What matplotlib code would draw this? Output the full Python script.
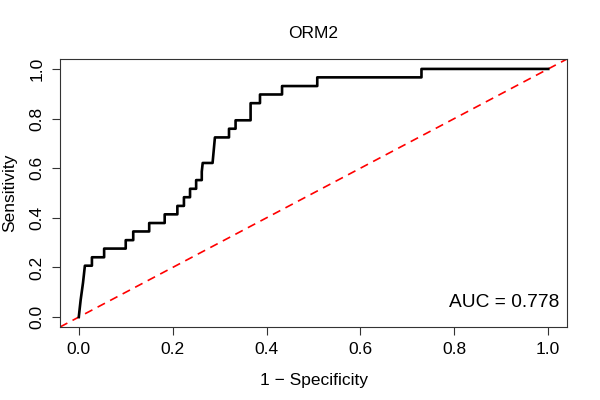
import matplotlib
matplotlib.use("Agg")
import matplotlib.pyplot as plt

plt.rcParams['font.family'] = ['Liberation Sans', 'DejaVu Sans']

# ROC curve vertices (1 - specificity, sensitivity)
fpr = [0.000, 0.002, 0.004, 0.009, 0.011, 0.013, 0.028, 0.028, 0.054, 0.054,
       0.100, 0.100, 0.116, 0.116, 0.150, 0.150, 0.183, 0.183, 0.210, 0.210,
       0.224, 0.224, 0.237, 0.237, 0.250, 0.250, 0.262, 0.262, 0.264, 0.285,
       0.290, 0.320, 0.320, 0.334, 0.334, 0.366, 0.366, 0.386, 0.386, 0.433,
       0.433, 0.508, 0.508, 0.730, 0.730, 1.000]
tpr = [0.000, 0.035, 0.069, 0.138, 0.172, 0.207, 0.207, 0.241, 0.241, 0.276,
       0.276, 0.310, 0.310, 0.345, 0.345, 0.379, 0.379, 0.414, 0.414, 0.448,
       0.448, 0.483, 0.483, 0.517, 0.517, 0.552, 0.552, 0.586, 0.621, 0.621,
       0.724, 0.724, 0.759, 0.759, 0.793, 0.793, 0.862, 0.862, 0.897, 0.897,
       0.931, 0.931, 0.966, 0.966, 1.000, 1.000]
auc = 0.778
title = "ORM2"
ticks = [0.0, 0.2, 0.4, 0.6, 0.8, 1.0]

fig = plt.figure(figsize=(6, 4), dpi=100)
ax = fig.add_axes([0.1, 0.1825, 0.845, 0.67])

ax.plot([-0.04, 1.04], [-0.04, 1.04], color="red", linestyle=(0, (5, 3.5)), linewidth=1.2)
ax.plot(fpr, tpr, color="black", linewidth=1.9)

ax.set_xlim(-0.04, 1.04)
ax.set_ylim(-0.04, 1.04)
ax.set_xticks(ticks)
ax.set_yticks(ticks)
ax.set_xticklabels([f"{t:.1f}" for t in ticks])
ax.set_yticklabels([f"{t:.1f}" for t in ticks], rotation=90, va="center")
ax.tick_params(direction="out", length=6, width=0.8, labelsize=12.5, pad=5, colors="#333333")
ax.tick_params(labelcolor="black")
for s in ax.spines.values():
    s.set_linewidth(0.8)
    s.set_color("#333333")

ax.text(1.023, 0.06, f"AUC = {auc:.3f}", ha="right", va="center", fontsize=13.8)
ax.set_title(title, fontsize=12.5, pad=15)
ax.set_xlabel("1 \u2212 Specificity", fontsize=12.5, labelpad=11)
ax.set_ylabel("Sensitivity", fontsize=12.5, labelpad=9)

fig.savefig("out.png", dpi=100)
